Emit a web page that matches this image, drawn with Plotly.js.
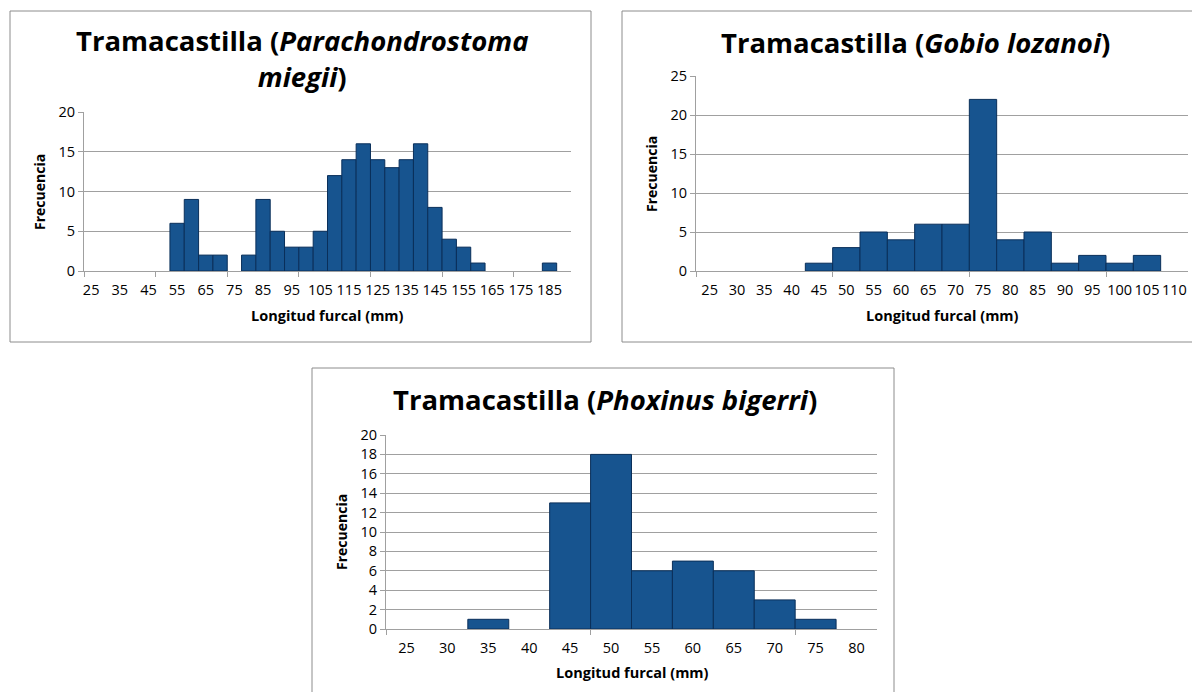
<!DOCTYPE html>
<html><head><meta charset="utf-8">
<script src="https://cdn.plot.ly/plotly-3.0.1.min.js"></script>
<style>html,body{margin:0;padding:0;background:#fff}#chart{width:1192px;height:692px}</style>
</head><body><div id="chart"></div>
<script>
// ---- data ----
const catsMiegii = ['25','30','35','40','45','50','55','60','65','70','75','80','85','90','95','100','105','110','115','120','125','130','135','140','145','150','155','160','165','170','175','180','185','190'];
const freqMiegii = [0,0,0,0,0,0,6,9,2,2,0,2,9,5,3,3,5,12,14,16,14,13,14,16,8,4,3,1,0,0,0,0,1,0];
const catsGobio = ['25','30','35','40','45','50','55','60','65','70','75','80','85','90','95','100','105','110'];
const freqGobio = [0,0,0,0,1,3,5,4,6,6,22,4,5,1,2,1,2,0];
const catsPhoxinus = ['25','30','35','40','45','50','55','60','65','70','75','80'];
const freqPhoxinus = [0,0,1,0,13,18,6,7,6,3,1,0];
const titleMiegii = '<b>Tramacastilla (<i>Parachondrostoma</i><br><i>miegii</i>)</b>';
const titleGobio = '<b>Tramacastilla (<i>Gobio lozanoi</i>)</b>';
const titlePhoxinus = '<b>Tramacastilla (<i>Phoxinus bigerri</i>)</b>';
const xTitle = '<b>Longitud furcal (mm)</b>';
const yTitle = '<b>Frecuencia</b>';

// ---- style ----
const W = 1192, H = 692;
const FONT = '"Open Sans", "DejaVu Sans", sans-serif';
const GRID = '#a0a0a0';
const BAR = '#17548f';
const BAR_LINE = '#0a2f5a';
const px = v => v / W;
const py = v => 1 - v / H;

function barTrace(cats, vals, xa, ya) {
  return {type: 'bar', x: cats, y: vals, xaxis: xa, yaxis: ya,
    marker: {color: BAR, line: {color: BAR_LINE, width: vals.map(v => v > 0 ? 1 : 0)}},
    hoverinfo: 'x+y', showlegend: false};
}
function dummy(xa, ya) {
  return {type: 'scatter', x: [], y: [], xaxis: xa, yaxis: ya, showlegend: false, hoverinfo: 'skip'};
}
function catAxis(n, dom, anchor, dtick) {
  return {type: 'category', domain: dom, anchor: anchor, range: [-0.5, n - 0.5],
    dtick: dtick, ticks: '', showgrid: false, zeroline: false,
    showline: true, linecolor: GRID, linewidth: 1, ticklabelstandoff: 6,
    tickfont: {family: FONT, size: 14.5, color: '#000'}, fixedrange: true};
}
function tickAxis(n, over, anchor) {
  const vals = [];
  for (let b = -0.5; b < n - 0.5; b += 5) vals.push(b);
  return {type: 'linear', overlaying: over, anchor: anchor, range: [-0.5, n - 0.5],
    tickmode: 'array', tickvals: vals, ticks: 'outside', ticklen: 5, tickcolor: GRID,
    tickwidth: 1, showticklabels: false, showgrid: false, zeroline: false, showline: false,
    fixedrange: true};
}
function valAxis(dom, anchor, max, dtick) {
  return {domain: dom, anchor: anchor, range: [0, max], dtick: dtick, tick0: 0,
    showgrid: true, gridcolor: GRID, gridwidth: 1, zeroline: false,
    showline: true, linecolor: GRID, linewidth: 1, ticks: 'outside', ticklen: 5,
    tickcolor: GRID, tickfont: {family: FONT, size: 14.5, color: '#000'}, fixedrange: true};
}

const data = [
  barTrace(catsMiegii, freqMiegii, 'x', 'y'),
  barTrace(catsGobio, freqGobio, 'x2', 'y2'),
  barTrace(catsPhoxinus, freqPhoxinus, 'x3', 'y3'),
  dummy('x4', 'y'), dummy('x5', 'y2'), dummy('x6', 'y3')
];

const d1x = [px(84), px(571)], d1y = [py(271), py(112)];
const d2x = [px(696), px(1188)], d2y = [py(271), py(76)];
const d3x = [px(386), px(877)], d3y = [py(629), py(435)];

function ann(text, x, y, size, angle) {
  return {text: text, xref: 'paper', yref: 'paper', x: px(x), y: py(y),
    xanchor: 'center', yanchor: 'middle', showarrow: false, textangle: angle || 0,
    font: {family: FONT, size: size, color: '#000'}};
}

const layout = {
  width: W, height: H, margin: {l: 0, r: 0, t: 0, b: 0},
  paper_bgcolor: '#fff', plot_bgcolor: 'rgba(0,0,0,0)',
  bargap: 0, showlegend: false,
  xaxis: catAxis(catsMiegii.length, d1x, 'y', 2),
  xaxis2: catAxis(catsGobio.length, d2x, 'y2', 1),
  xaxis3: catAxis(catsPhoxinus.length, d3x, 'y3', 1),
  xaxis4: tickAxis(catsMiegii.length, 'x', 'y'),
  xaxis5: tickAxis(catsGobio.length, 'x2', 'y2'),
  xaxis6: tickAxis(catsPhoxinus.length, 'x3', 'y3'),
  yaxis: valAxis(d1y, 'x', 20, 5),
  yaxis2: valAxis(d2y, 'x2', 25, 5),
  yaxis3: valAxis(d3y, 'x3', 20, 2),
  shapes: [
    {type: 'rect', xref: 'paper', yref: 'paper', x0: px(10), x1: px(591), y0: py(342), y1: py(11), line: {color: '#8c8c8c', width: 1}, layer: 'below'},
    {type: 'rect', xref: 'paper', yref: 'paper', x0: px(622), x1: px(1215), y0: py(342), y1: py(11), line: {color: '#8c8c8c', width: 1}, layer: 'below'},
    {type: 'rect', xref: 'paper', yref: 'paper', x0: px(312), x1: px(894), y0: py(720), y1: py(368), line: {color: '#8c8c8c', width: 1}, layer: 'below'}
  ],
  annotations: [
    ann(titleMiegii, 302, 59, 27.5),
    ann(titleGobio, 915, 43, 27.5),
    ann(titlePhoxinus, 605, 399, 27.5),
    ann(xTitle, 327, 316, 14.5),
    ann(xTitle, 942, 316, 14.5),
    ann(xTitle, 632, 672, 14.5),
    ann(yTitle, 40, 192, 14, -90),
    ann(yTitle, 652, 174, 14, -90),
    ann(yTitle, 341, 532, 14, -90)
  ]
};

Plotly.newPlot('chart', data, layout, {staticPlot: true, displayModeBar: false});
</script>
</body></html>
